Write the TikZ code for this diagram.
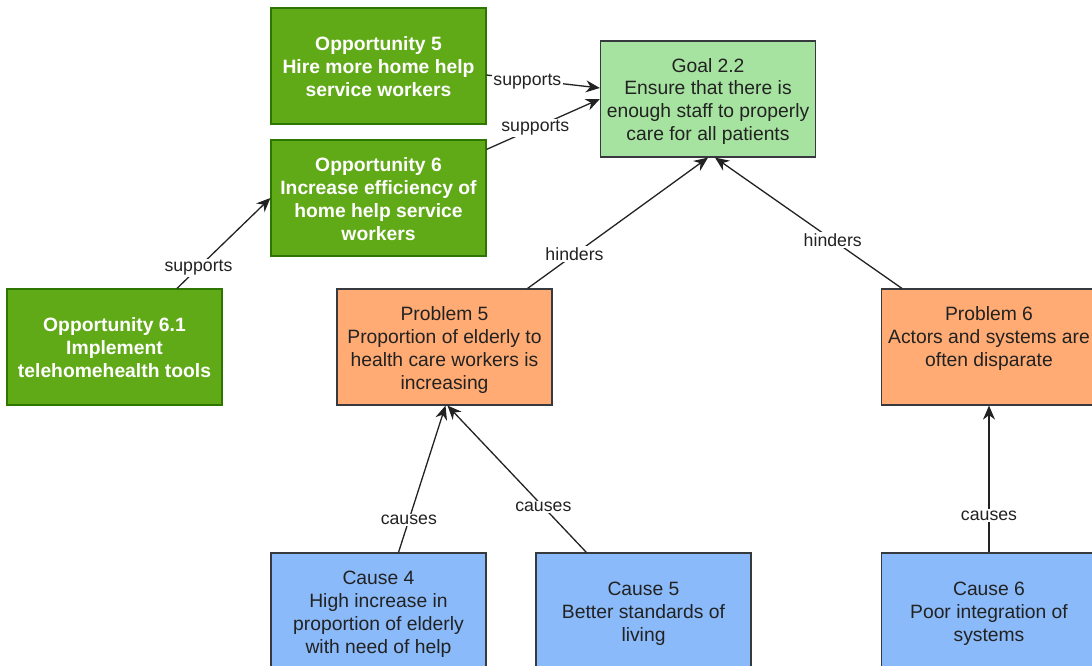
\documentclass[tikz,border=0pt]{standalone}
\usepackage{fontspec}
\setmainfont{Liberation Sans}
\usetikzlibrary{arrows.meta}

\definecolor{oppfill}{HTML}{60A917}
\definecolor{oppline}{HTML}{2D7600}
\definecolor{goalfill}{HTML}{A6E3A0}
\definecolor{probfill}{HTML}{FFAB73}
\definecolor{causefill}{HTML}{8ABAF9}
\definecolor{boxline}{HTML}{36393D}
\definecolor{inktext}{HTML}{222222}

% struts for the first and last line of a box text
\newcommand{\linetop}{\rule{0pt}{19.5pt}}
\newcommand{\linebot}{\rule[-4.5pt]{0pt}{0pt}}

\begin{document}
\begin{tikzpicture}[x=1pt,y=-1pt,
  box/.style={rectangle, draw=boxline, line width=1.2pt,
    minimum width=215pt, minimum height=116pt, inner sep=0pt,
    align=center, font=\fontsize{19.3}{23}\selectfont, text=inktext},
  opp/.style={box, fill=oppfill, draw=oppline, text=white,
    font=\fontsize{19.3}{23}\selectfont\bfseries},
  goalbox/.style={box, fill=goalfill},
  probbox/.style={box, fill=probfill},
  causebox/.style={box, fill=causefill},
  link/.style={draw=inktext, line width=1.3pt,
    -{Stealth[length=14pt,width=12pt,inset=4.5pt]}},
  tag/.style={fill=white, inner sep=1.5pt,
    font=\fontsize{17.7}{20}\selectfont, text=inktext}]

\useasboundingbox (0,0) rectangle (1092,666);
\clip (0,0) rectangle (1092,666);

% goal
\node[goalbox] (goal) at (708,99) {\linetop Goal 2.2\\Ensure that there is\\enough staff to properly\\care for all patients\linebot};

% opportunities
\node[opp] (o5) at (378.5,66) {\linetop Opportunity 5\\Hire more home help\\service workers\linebot};
\node[opp] (o6) at (378.5,198) {\linetop Opportunity 6\\Increase efficiency of\\home help service\\workers\linebot};
\node[opp] (o61) at (114.5,347) {\linetop Opportunity 6.1\\Implement\\telehomehealth tools\linebot};

% problems
\node[probbox] (p5) at (444.5,347) {\linetop Problem 5\\Proportion of elderly to\\health care workers is\\increasing\linebot};
\node[probbox] (p6) at (989,347) {\linetop Problem 6\\Actors and systems are\\often disparate\\\mbox{}\linebot};

% causes
\node[causebox] (c4) at (378.5,611) {\linetop Cause 4\\High increase in\\proportion of elderly\\with need of help\linebot};
\node[causebox] (c5) at (643.5,611) {\linetop Cause 5\\Better standards of\\living\linebot};
\node[causebox] (c6) at (989,611) {\linetop Cause 6\\Poor integration of\\systems\linebot};

% support links
\draw[link] ([yshift=-9pt]o5.east) -- node[tag, pos=0.36, yshift=-2pt] {supports} ([yshift=11pt]goal.west);
\draw[link] ([yshift=-10pt]o6.north east) -- node[tag, pos=0.43] {supports} (goal.west);
\draw[link] ([xshift=62.5pt]o61.north) -- node[tag, pos=0.23] {supports} (o6.west);

% hinder links
\draw[link] ([xshift=-25pt]p5.north east) -- node[tag, pos=0.26] {hinders} (goal.south);
\draw[link] ([xshift=21pt]p6.north west) -- node[tag, pos=0.37] {hinders} ([xshift=7pt]goal.south);

% cause links
\draw[link] ([xshift=20pt]c4.north) -- node[tag, pos=0.22] {causes} ([xshift=1pt]p5.south);
\draw[link] ([xshift=51pt]c5.north west) -- node[tag, pos=0.31] {causes} ([xshift=3pt]p5.south);
\draw[link] (c6.north) -- node[tag, pos=0.25] {causes} (p6.south);
\end{tikzpicture}
\end{document}
